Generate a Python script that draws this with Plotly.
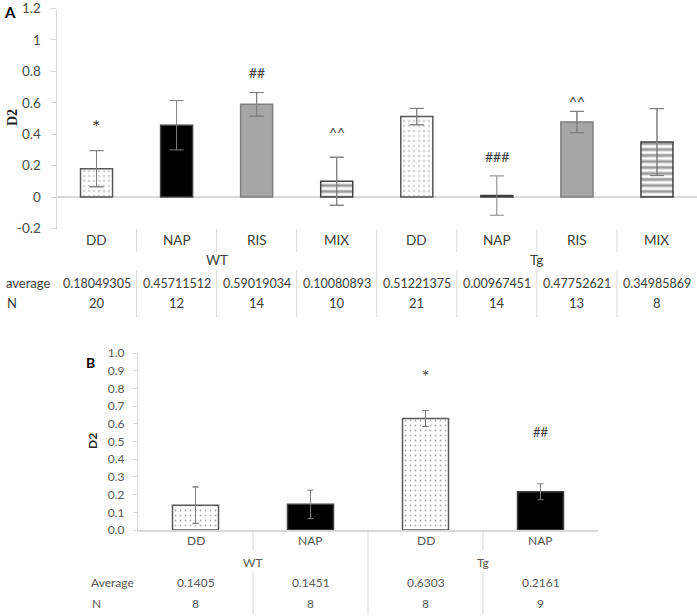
import plotly.graph_objects as go

W, H = 697, 616

# ---------------- data: panel A ----------------
treatments_A = ["DD", "NAP", "RIS", "MIX", "DD", "NAP", "RIS", "MIX"]
groups_A = ["WT", "Tg"]
average_A = [0.18049305, 0.45711512, 0.59019034, 0.10080893,
             0.51221375, 0.00967451, 0.47752621, 0.34985869]
error_A = [0.115, 0.157, 0.075, 0.153, 0.052, 0.125, 0.068, 0.213]
n_A = [20, 12, 14, 10, 21, 14, 13, 8]
sig_A = ["*", "", "##", "^^", "", "###", "^^", ""]
sig_y_A = [0.47, None, 0.79, 0.41, None, 0.26, 0.61, None]
yticks_A = [-0.2, 0, 0.2, 0.4, 0.6, 0.8, 1, 1.2]
yticktext_A = ["-0.2", "0", "0.2", "0.4", "0.6", "0.8", "1", "1.2"]

# ---------------- data: panel B ----------------
treatments_B = ["DD", "NAP", "DD", "NAP"]
groups_B = ["WT", "Tg"]
average_B = [0.1405, 0.1451, 0.6303, 0.2161]
average_B_text = ["0.1405", "0.1451", "0.6303", "0.2161"]
error_B = [0.103, 0.08, 0.045, 0.045]
n_B = [8, 8, 8, 9]
sig_B = ["", "", "*", "##"]
sig_y_B = [None, None, 0.89, 0.555]

# ---------------- styles ----------------
# fg = marker colour (pattern ink), bg = pattern background
STYLE = {
    "DD":  dict(fg="#a8a8a8", bg="white", shape=".", line="#595959", size=5, sol=0.1),
    "NAP": dict(fg="black", bg="black", shape="", line="#404040", size=6, sol=0.3),
    "RIS": dict(fg="#a6a6a6", bg="#a6a6a6", shape="", line="#7f7f7f", size=6, sol=0.3),
    "MIX": dict(fg="#9c9c9c", bg="#d6d6d6", shape="-", line="#404040", size=6, sol=0.5),
}
OPAQUE = {"NAP"}  # bars that hide the part of the error bar inside them

def px_x(x):
    return x / W

def px_y(y):
    return 1 - y / H

def add_panel(fig, treat, vals, errs, xa, ya, capw):
    xs = list(range(len(vals)))
    err_style = dict(type="data", array=errs, visible=True,
                     color="#7f7f7f", thickness=1, width=capw)
    fig.add_trace(go.Scatter(x=xs, y=vals, mode="markers", marker=dict(size=0.1, opacity=0),
                             error_y=err_style, xaxis=xa, yaxis=ya, hoverinfo="skip"))
    fig.add_trace(go.Bar(
        x=xs, y=vals, width=0.4, xaxis=xa, yaxis=ya,
        marker=dict(
            color=[STYLE[t]["fg"] for t in treat],
            line=dict(color=[STYLE[t]["line"] for t in treat], width=1.5),
            pattern=dict(
                shape=[STYLE[t]["shape"] for t in treat],
                bgcolor=[STYLE[t]["bg"] for t in treat],
                size=[STYLE[t]["size"] for t in treat],
                solidity=[STYLE[t]["sol"] for t in treat],
                fillmode="replace",
            ),
        ),
        hoverinfo="skip",
    ))
    top_vals = [None if t in OPAQUE else v for t, v in zip(treat, vals)]
    fig.add_trace(go.Scatter(x=xs, y=top_vals, mode="markers", marker=dict(size=0.1, opacity=0),
                             error_y=err_style, xaxis=xa, yaxis=ya, hoverinfo="skip"))

fig = go.Figure()
add_panel(fig, treatments_A, average_A, error_A, "x", "y", 7)
add_panel(fig, treatments_B, average_B, error_B, "x2", "y2", 3)

GRID = "#d9d9d9"
fig.update_layout(
    width=W, height=H, margin=dict(l=0, r=0, t=0, b=0, autoexpand=False),
    paper_bgcolor="white", plot_bgcolor="white", showlegend=False,
    hovermode=False,
    xaxis=dict(domain=[px_x(56.5), 1], range=[-0.5, 7.5], showticklabels=False,
               showline=False, zeroline=False, showgrid=False, ticks="",
               anchor="y", automargin=False),
    yaxis=dict(domain=[px_y(228.5), px_y(8.5)], range=[-0.2, 1.2],
               tickvals=yticks_A, ticktext=yticktext_A, ticks="outside",
               ticklen=5, tickcolor=GRID, showline=True, linecolor=GRID,
               zeroline=True, zerolinecolor=GRID, zerolinewidth=1.5,
               showgrid=False, anchor="x", ticklabelstandoff=7, automargin=False,
               ticklabeloverflow="allow",
               tickfont=dict(family="Lato", size=13.5, color="#4d4d4d")),
    xaxis2=dict(domain=[px_x(138), px_x(598)], range=[-0.5, 3.5],
                showticklabels=False, showline=True, linecolor=GRID,
                linewidth=1.5, zeroline=False, showgrid=False, ticks="",
                anchor="y2", automargin=False),
    yaxis2=dict(domain=[px_y(530), px_y(353)], range=[0, 1.0], dtick=0.1,
                tickformat=".1f", ticks="outside", ticklen=4, tickcolor=GRID,
                showline=True, linecolor=GRID, zeroline=False, showgrid=False,
                anchor="x2", ticklabelstandoff=6, automargin=False,
                ticklabeloverflow="allow",
                tickfont=dict(family="Lato", size=12, color="#595959")),
)

ann = []
shapes = []

def txt(x, y, s, xref, size, color, family="Lato", yref="paper",
        xanchor="center", bold=False, angle=0):
    ann.append(dict(x=x, y=y, xref=xref, yref=yref, text=("<b>%s</b>" % s) if bold else s,
                    showarrow=False, xanchor=xanchor, yanchor="middle", textangle=angle,
                    font=dict(family=family, size=size, color=color)))

def vline(x, xref, y0, y1):
    shapes.append(dict(type="line", xref=xref, yref="paper", x0=x, x1=x,
                       y0=px_y(y0), y1=px_y(y1),
                       line=dict(color=GRID, width=1)))

# ---- Panel A table ----
CA = "#404040"
FA = 12.5
for i, t in enumerate(treatments_A):
    txt(i, px_y(240), t, "x", 13.5, CA)
    txt(i, px_y(283), str(average_A[i]), "x", FA, CA)
    txt(i, px_y(303), str(n_A[i]), "x", 13, CA)
for g, name in enumerate(groups_A):
    txt(1.5 + 4 * g, px_y(260), name, "x", 13.5, CA)
txt(px_x(4), px_y(283), "average", "paper", 13, CA, xanchor="left")
txt(px_x(5), px_y(303), "N", "paper", 13, CA, xanchor="left")
for i in range(len(treatments_A) - 1):
    b = i + 0.5
    if i == 3:
        vline(b, "x", 229, 317)
    else:
        vline(b, "x", 229, 252)
        vline(b, "x", 270, 317)

for i, s in enumerate(sig_A):
    if s:
        if s == "*":
            txt(i, sig_y_A[i] - 0.02, s, "x", 20, CA, yref="y")
        else:
            txt(i, sig_y_A[i], s, "x", 14, CA, yref="y")

# ---- Panel B table ----
CB = "#595959"
for i, t in enumerate(treatments_B):
    txt(i, px_y(540), t, "x2", 12, CB)
    txt(i, px_y(582), average_B_text[i], "x2", 12, CB)
    txt(i, px_y(603), str(n_B[i]), "x2", 12, CB)
for g, name in enumerate(groups_B):
    txt(0.5 + 2 * g, px_y(562), name, "x2", 12, CB)
txt(px_x(89), px_y(582), "Average", "paper", 12, CB, xanchor="left")
txt(px_x(90), px_y(603), "N", "paper", 12, CB, xanchor="left")
for i in range(len(treatments_B) - 1):
    b = i + 0.5
    if i == 1:
        vline(b, "x2", 529, 615)
    else:
        vline(b, "x2", 529, 551)
        vline(b, "x2", 572, 615)

for i, s in enumerate(sig_B):
    if s:
        if s == "*":
            txt(i, sig_y_B[i] - 0.02, s, "x2", 17, CA, yref="y2")
        else:
            txt(i, sig_y_B[i], s, "x2", 13, CA, yref="y2")

txt(px_x(10), px_y(12), "A", "paper", 15, "black", bold=True)
txt(px_x(90), px_y(362), "B", "paper", 14, "black", bold=True)
txt(px_x(12), px_y(118), "D2", "paper", 14, "#262626",
    family="Liberation Serif", bold=True, angle=-90)
txt(px_x(92), px_y(441), "D2", "paper", 12, "#262626", bold=True, angle=-90)

fig.update_layout(annotations=ann, shapes=shapes)
fig.write_html("out.html", config={"displayModeBar": False, "staticPlot": True},
               post_script="document.body.style.margin='0px';document.body.style.overflow='hidden';")
